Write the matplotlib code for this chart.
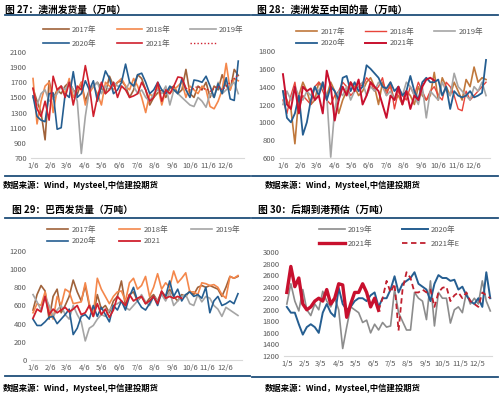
import numpy as np
import pandas as pd
import matplotlib
matplotlib.use("Agg")
import matplotlib.pyplot as plt
from matplotlib.lines import Line2D

plt.rcParams['font.family'] = ['Noto Sans CJK SC', 'DejaVu Sans']

# -----------------------------
# data (weekly)
# -----------------------------
# 图27 澳洲发货量
au_2017 = [1620, 1450, 1300, 940, 1720, 1480, 1600, 1550, 1650, 1700,
           1600, 1540, 1700, 1450, 1600, 1650, 1700, 1620, 1550, 1780,
           1650, 1700, 1720, 1650, 1500, 1600, 1800, 1750, 1600, 1400,
           1500, 1560, 1600, 1500, 1620, 1650, 1550, 1600, 1870, 1550,
           1500, 1650, 1600, 1700, 1500, 1650, 1600, 1800, 1650, 1600,
           1870, 1790]
au_2018 = [1750, 1150, 1450, 1650, 1700, 1300, 1600, 1650, 1550, 1750,
           1500, 1600, 1700, 1400, 1550, 1650, 1550, 1400, 1700, 1650,
           1600, 1700, 1750, 1650, 1600, 1750, 1650, 1500, 1300, 1550,
           1500, 1650, 1400, 1600, 1550, 1600, 1650, 1700, 1500, 1650,
           1600, 1550, 1650, 1600, 1380, 1350, 1450, 1600, 1950, 1600,
           1750, 1720]
au_2019 = [1500, 1400, 1550, 1600, 1450, 1500, 1550, 1650, 1600, 1700,
           1600, 1450, 760, 1250, 1600, 1650, 1700, 1550, 1650, 1600,
           1700, 1650, 1650, 1600, 1700, 1650, 1550, 1600, 1500, 1450,
           1550, 1600, 1550, 1650, 1400, 1600, 1550, 1500, 1450, 1400,
           1380, 1500, 1450, 1370, 1550, 1500, 1700, 1550, 1600, 1650,
           1700, 1550]
au_2020 = [1520, 1250, 1200, 1180, 1550, 1560, 1080, 1100, 1550, 1500,
           1840, 1500, 1550, 1720, 1600, 1720, 1450, 1650, 1850, 1750,
           1550, 1600, 1700, 1940, 1700, 1650, 1800, 1820, 1700, 1550,
           1600, 1700, 1600, 1550, 1650, 1600, 1550, 1750, 1600, 1500,
           1730, 1720, 1700, 1780, 1650, 1500, 1680, 1550, 1760, 1480,
           1460, 1980]
au_2021 = [1620, 1350, 1250, 1450, 1200, 1780, 1600, 1650, 1500, 1700,
           1400, 1650, 1600, 1920, 1650, 1250, 1500, 1700, 1550, 1600,
           1700, 1500, 1650, 1600, 1500, 1520, 1550, 1700, 1600, 1450,
           1500, 1700, 1450, 1600, 1550, 1650, 1770, 1760, 1620]
au_2021e = [1620, 1600, 1620, 1650, 1600, 1620, 1580, 1620, 1650, 1600,
            1650, 1700, 1750, 1800]

# 图28 澳洲发至中国的量
cn_2017 = [1350, 1250, 1150, 760, 1300, 1450, 1350, 1200, 1250, 1450,
           1400, 1300, 1450, 1350, 1100, 1250, 1350, 1450, 1400, 1300,
           1350, 1450, 1500, 1400, 1200, 1450, 1350, 1400, 1250, 1300,
           1200, 1350, 1300, 1200, 1400, 1300, 1250, 1300, 1560, 1250,
           1500, 1400, 1300, 1450, 1350, 1250, 1480, 1400, 1620, 1450,
           1500, 1480]
cn_2018 = [1250, 1100, 1300, 1450, 1150, 1300, 1250, 1200, 1400, 1450,
           1350, 1250, 1200, 1300, 1350, 1450, 1400, 1300, 1350, 1450,
           1400, 1500, 1450, 1350, 1400, 1500, 1300, 1450, 1150, 1350,
           1300, 1250, 1400, 1300, 1450, 1350, 1250, 1350, 1400, 1300,
           1250, 1450, 1400, 1300, 1150, 1130, 1350, 1250, 1300, 1350,
           1400, 1450]
cn_2019 = [1200, 1350, 1250, 1400, 1300, 1250, 1350, 1300, 1400, 1350,
           1450, 1300, 610, 1150, 1350, 1300, 1400, 1250, 1350, 1400,
           1450, 1300, 1400, 1350, 1450, 1400, 1300, 1350, 1250, 1400,
           1300, 1450, 1400, 1300, 1200, 1400, 1050, 1350, 1300, 1250,
           1450, 1350, 1300, 1550, 1400, 1350, 1300, 1250, 1400, 1350,
           1450, 1300]
cn_2020 = [1350, 1050, 1000, 1100, 1300, 860, 1000, 1250, 1400, 1300,
           1450, 1250, 1400, 1350, 1250, 1500, 1520, 1350, 1450, 1350,
           1400, 1640, 1600, 1550, 1500, 1400, 1380, 1450, 1350, 1400,
           1300, 1350, 1520, 1350, 1250, 1450, 1500, 1450, 1450, 1480,
           1300, 1400, 1150, 1350, 1300, 1280, 1300, 1350, 1280, 1300,
           1330, 1700]
cn_2021 = [1540, 1200, 1150, 1400, 1100, 1400, 1350, 1380, 1250, 1300,
           1100, 1580, 1400, 1020, 1250, 1400, 1300, 1450, 1350, 1480,
           1200, 1300, 1450, 1400, 1350, 1200, 1050, 1300, 1250, 1400,
           1200, 1350, 1150, 1300, 1250, 1400, 1480, 1500, 1470]

# 图29 巴西发货量
br_2017 = [550, 720, 820, 760, 450, 700, 780, 520, 600, 700,
           880, 750, 650, 820, 600, 480, 720, 560, 600, 520,
           650, 700, 870, 600, 720, 750, 650, 700, 620, 680,
           720, 650, 750, 700, 780, 700, 650, 720, 700, 760,
           720, 800, 820, 800, 820, 800, 780, 700, 800, 920,
           900, 920]
br_2018 = [520, 620, 600, 750, 550, 450, 700, 600, 780, 750,
           620, 630, 640, 850, 620, 500, 900, 780, 700, 620,
           700, 750, 760, 650, 850, 900, 780, 820, 920, 700,
           800, 950, 780, 850, 800, 980, 850, 900, 960, 750,
           750, 720, 850, 840, 820, 830, 800, 720, 680, 920,
           900, 930]
br_2019 = [720, 640, 550, 700, 600, 480, 550, 600, 500, 450,
           600, 500, 420, 210, 350, 380, 450, 500, 480, 550,
           600, 620, 650, 580, 550, 600, 650, 720, 640, 600,
           700, 650, 720, 650, 750, 600, 650, 700, 720, 620,
           600, 720, 640, 700, 680, 600, 560, 480, 580, 550,
           520, 490]
br_2020 = [450, 380, 380, 420, 470, 480, 400, 450, 500, 560,
           280, 350, 480, 500, 450, 600, 480, 580, 500, 420,
           600, 550, 650, 550, 700, 800, 650, 580, 550, 620,
           700, 600, 750, 700, 870, 700, 780, 650, 720, 750,
           700, 720, 680, 800, 520, 650, 700, 600, 620, 650,
           620, 730]
br_2021 = [460, 560, 530, 700, 500, 560, 520, 550, 580, 530,
           560, 600, 500, 520, 600, 480, 620, 500, 560, 470,
           550, 700, 650, 600, 720, 650, 680, 700, 620, 650,
           700, 620, 760, 680, 700, 680, 700, 680]

# 图30 后期到港预估
ar_2019 = [2100, 2450, 2150, 1980, 2350, 2000, 1900, 2100, 2000, 2320,
           2150, 2050, 2200, 2000, 1330, 1700, 2050, 2000, 1950, 1780,
           1820, 1600, 1750, 1650, 1780, 1700, 1720, 2350, 1950, 1800,
           1650, 1650, 2300, 2200, 2150, 1830, 2500, 1720, 2300, 2200,
           2200, 1770, 2000, 2050, 1950, 2300, 2100, 2200, 2100, 2500,
           2150, 1980]
ar_2020 = [2050, 1950, 1950, 1750, 1570, 1700, 1750, 1700, 1600, 1950,
           2100, 1950, 1880, 2380, 2100, 2000, 2050, 2150, 2200, 2200,
           2150, 2250, 2300, 2050, 2200, 2200, 2350, 2580, 2300, 2450,
           2500, 2550, 2650, 2450, 2400, 2350, 2150, 2450, 2600, 2550,
           2550, 2500, 2520, 2350, 2400, 2250, 2150, 2100, 2200, 2050,
           2650, 2200]
ar_2021 = [2300, 2750, 2400, 2550, 2100, 2000, 2050, 2150, 2200, 2150,
           2350, 2100, 2200, 2450, 2430, 1870, 2100, 2300, 2300, 2450,
           2300, 2050, 2200, 1990]
ar_2021e = [1990, 2200, 2500, 2300, 2450, 1640, 2350, 2650, 2550, 2300,
            2300, 2350, 2300, 2350, 2050, 2300, 2380, 2400, 2150, 2250,
            2300, 2200, 2300, 2150, 2100, 2050, 2300, 2250, 2200]

BROWN = "#A0623A"
ORANGE = "#F4874B"
GRAY = "#A5A5A5"
BLUE = "#255E91"
RED = "#D0202E"
NAVY = "#1F4E79"
TXT = "#595959"

W, H = 500, 395
fig = plt.figure(figsize=(W / 100, H / 100), dpi=100)


def fx(px):
    return px / W


def fy(py):
    return 1 - py / H


def weeks(n, start=0):
    return 7 * np.arange(start, start + n)


def setup(ax, day, yticks):
    ax.set_ylim(yticks[0], yticks[-1])
    ax.set_yticks(yticks)
    ticks = [(pd.Timestamp(2021, m, day) - pd.Timestamp(2021, 1, day)).days
             for m in range(1, 13)]
    ax.set_xticks(ticks)
    ax.set_xticklabels([f"{m}/{day}" for m in range(1, 13)])
    for s in ["top", "right", "left"]:
        ax.spines[s].set_visible(False)
    ax.spines["bottom"].set_color("#D9D9D9")
    ax.spines["bottom"].set_linewidth(0.8)
    ax.tick_params(length=0, labelsize=5.5, labelcolor=TXT, pad=3)
    ax.patch.set_alpha(0)


def frame(x0, x1, ytop, ybot, title, tx, ty, sx, sy):
    fig.add_artist(Line2D([fx(x0), fx(x1)], [fy(ytop), fy(ytop)], color=NAVY, lw=1.3))
    fig.add_artist(Line2D([fx(x0), fx(x1)], [fy(ybot), fy(ybot)], color=NAVY, lw=1.3))
    fig.text(fx(tx), fy(ty), title, fontsize=7.0, fontweight="bold", va="center", ha="left")
    fig.text(fx(sx), fy(sy), "数据来源：Wind，Mysteel,中信建投期货", fontsize=6,
             fontweight="bold", style="italic", va="center", ha="left")


# -----------------------------
# 图27
# -----------------------------
ax1 = fig.add_axes([fx(31), fy(158), fx(244 - 31), (158 - 52) / H])
n = len(au_2017)
l17, = ax1.plot(weeks(n), au_2017, color=BROWN, lw=1.2)
l18, = ax1.plot(weeks(n), au_2018, color=ORANGE, lw=1.2)
l19, = ax1.plot(weeks(n), au_2019, color=GRAY, lw=1.2)
l20, = ax1.plot(weeks(n), au_2020, color=BLUE, lw=1.2)
l21, = ax1.plot(weeks(len(au_2021)), au_2021, color=RED, lw=1.2)
l21e, = ax1.plot(weeks(len(au_2021e), len(au_2021) - 1), au_2021e, color=RED, lw=1.0, ls=(0, (1, 1.5)))
ax1.set_xlim(-3.5, 367)
setup(ax1, 6, np.arange(700, 2101, 200))
ax1.legend([l17, l20, l18, l21, l19, l21e], ["2017年", "2020年", "2018年", "2021年", "2019年", " "],
           ncol=3, loc="upper left", bbox_to_anchor=(fx(43), fy(26)), bbox_transform=fig.transFigure,
           frameon=False, fontsize=5.5, labelcolor=TXT, handlelength=3.4, handletextpad=0.4,
           columnspacing=2.6, labelspacing=0.75, borderpad=0, borderaxespad=0)
frame(5, 250, 15, 176, "图 27：澳洲发货量（万吨）", 5, 10, 3, 185)

# -----------------------------
# 图28
# -----------------------------
ax2 = fig.add_axes([fx(280), fy(158), fx(490 - 280), (158 - 51) / H])
n = len(cn_2017)
m17, = ax2.plot(weeks(n), cn_2017, color="#C0783C", lw=1.2)
m18, = ax2.plot(weeks(n), cn_2018, color="#E8443A", lw=1.0)
m19, = ax2.plot(weeks(n), cn_2019, color=GRAY, lw=1.2)
m20, = ax2.plot(weeks(n), cn_2020, color=BLUE, lw=1.3)
m21, = ax2.plot(weeks(len(cn_2021)), cn_2021, color="#C8102E", lw=1.4)
ax2.set_xlim(-5.2, 364)
setup(ax2, 6, np.arange(600, 1801, 200))
ax2.legend([m17, m20, m18, m21, m19], ["2017年", "2020年", "2018年", "2021年", "2019年"],
           ncol=3, loc="upper left", bbox_to_anchor=(fx(296), fy(28)), bbox_transform=fig.transFigure,
           frameon=False, fontsize=5.5, labelcolor=TXT, handlelength=2.8, handletextpad=0.4,
           columnspacing=2.6, labelspacing=0.45, borderpad=0, borderaxespad=0)
frame(252, 498, 15, 176, "图 28：澳洲发至中国的量（万吨）", 257, 10, 265, 185)

# -----------------------------
# 图29
# -----------------------------
ax3 = fig.add_axes([fx(31), fy(360), fx(242 - 31), (360 - 251) / H])
n = len(br_2017)
b17, = ax3.plot(weeks(n), br_2017, color=BROWN, lw=1.2)
b18, = ax3.plot(weeks(n), br_2018, color=ORANGE, lw=1.2)
b19, = ax3.plot(weeks(n), br_2019, color=GRAY, lw=1.2)
b20, = ax3.plot(weeks(n), br_2020, color=BLUE, lw=1.2)
b21, = ax3.plot(weeks(len(br_2021)), br_2021, color=RED, lw=1.3)
ax3.set_xlim(-3.5, 364)
setup(ax3, 6, np.arange(0, 1201, 200))
ax3.legend([b17, b20, b18, b21, b19], ["2017年", "2020年", "2018年", "2021", "2019年"],
           ncol=3, loc="upper left", bbox_to_anchor=(fx(47), fy(226)), bbox_transform=fig.transFigure,
           frameon=False, fontsize=5.5, labelcolor=TXT, handlelength=2.8, handletextpad=0.4,
           columnspacing=3.0, labelspacing=0.45, borderpad=0, borderaxespad=0)
frame(5, 250, 218, 376, "图 29：巴西发货量（万吨）", 12, 210, 3, 388)

# -----------------------------
# 图30
# -----------------------------
ax4 = fig.add_axes([fx(284), fy(356), fx(492 - 284), (356 - 252) / H])
n = len(ar_2019)
a19, = ax4.plot(weeks(n), ar_2019, color="#8C8C8C", lw=1.2)
a20, = ax4.plot(weeks(n), ar_2020, color=BLUE, lw=1.4)
a21, = ax4.plot(weeks(len(ar_2021)), ar_2021, color="#C8102E", lw=2.4)
a21e, = ax4.plot(weeks(len(ar_2021e), len(ar_2021) - 1), ar_2021e, color="#C0202E", lw=1.3, ls=(0, (3, 2)))
ax4.set_xlim(-5, 360)
setup(ax4, 5, np.arange(1200, 3001, 200))
ax4.legend([a19, a21, a20, a21e], ["2019年", "2021年", "2020年", "2021年E"],
           ncol=2, loc="upper left", bbox_to_anchor=(fx(319), fy(226)), bbox_transform=fig.transFigure,
           frameon=False, fontsize=5.5, labelcolor=TXT, handlelength=3.4, handletextpad=0.4,
           columnspacing=3.8, labelspacing=0.75, borderpad=0, borderaxespad=0)
frame(252, 498, 218, 377, "图 30：后期到港预估（万吨）", 258, 210, 265, 388)

fig.savefig("out.png", dpi=100)
